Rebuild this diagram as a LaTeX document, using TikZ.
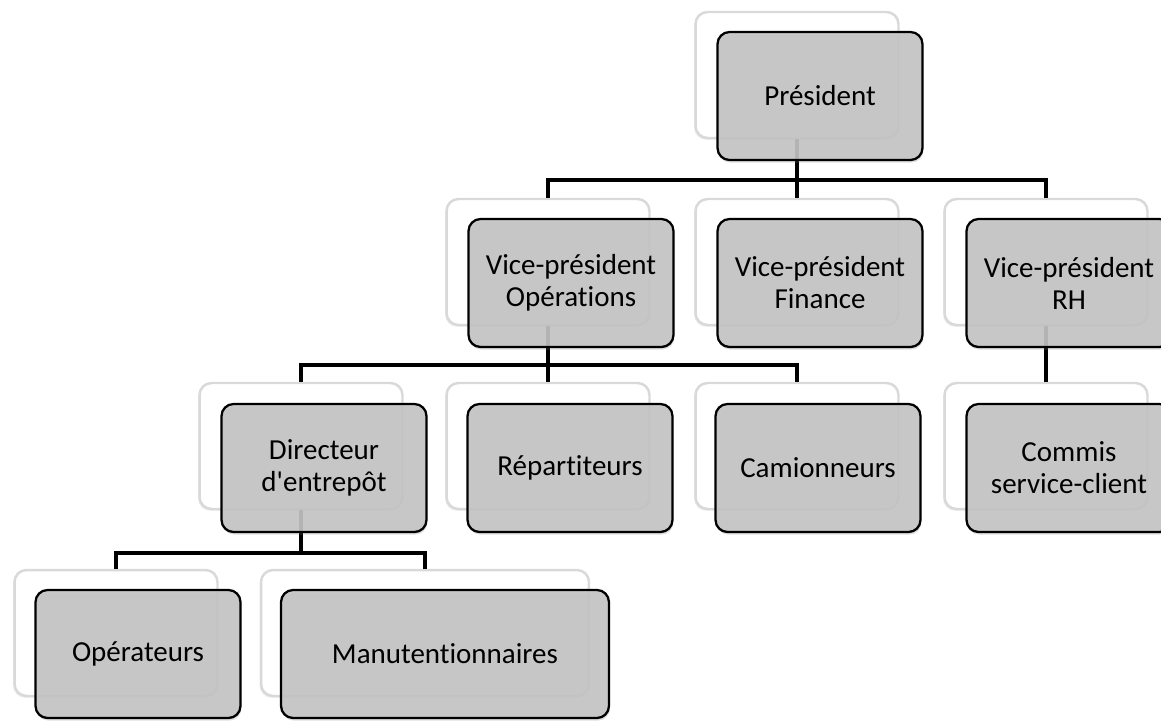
\documentclass[tikz,border=0pt]{standalone}
\usepackage{fontspec}
\setmainfont{Carlito}[Ligatures={NoCommon}]
\usetikzlibrary{shadows}
\tikzset{ b/.style = { rectangle % back card
        , rounded corners = 0.24cm
        , draw = black!15
        , line width = 1.4pt
        , fill = white
        , drop shadow = {opacity=0.15, shadow xshift=-0.8pt, shadow yshift=-1pt}
        , minimum width = 4.06cm
        , minimum height = 2.52cm
        }
        , f/.style = { rectangle % front card
        , rounded corners = 0.24cm
        , draw = black
        , line width = 1.3pt
        , fill = black!23
        , fill opacity = 0.9
        , text opacity = 1
        , drop shadow = {opacity=0.25, shadow xshift=0.5pt, shadow yshift=-1.5pt}
        , minimum width = 4.1cm
        , minimum height = 2.56cm
        , align = center
        , font = \fontsize{16.5}{18.2}\selectfont
        }
        }

\begin{document}
\begin{tikzpicture}[x=0.02cm, y=-0.02cm,
        edge_style/.style={draw=black, line width=2.8pt}]
        \useasboundingbox (0,0) rectangle (1161,721);

        \node [b](pres-b) at (797,75) {};
        \node [b](opr-b) at (548,262) {};
        \node [b](fin-b) at (797,262) {};
        \node [b](rh-b) at (1046,262) {};
        \node [b](dir-b) at (301,446) {};
        \node [b](rep-b) at (548,446) {};
        \node [b](cam-b) at (797,446) {};
        \node [b](com-b) at (1046,446) {};
        \node [b](ope-b) at (116,633) {};
        \node [b,minimum width=6.56cm](man-b) at (425,633) {};

        \coordinate (bar1) at (797,180);
        \coordinate (bar2) at (548,365);
        \coordinate (bar3) at (301,553);
        \draw [edge_style] (opr-b.north) |- (bar1) -| (rh-b.north);
        \draw [edge_style] (pres-b.south) -- (bar1) -- (fin-b.north);
        \draw [edge_style] (dir-b.north) |- (bar2) -| (cam-b.north);
        \draw [edge_style] (opr-b.south) -- (bar2) -- (rep-b.north);
        \draw [edge_style] (ope-b.north) |- (bar3) -| (man-b.north);
        \draw [edge_style] (dir-b.south) -- (bar3);
        \draw [edge_style] (rh-b.south) -- (com-b.north);

        \node [f](pres) at (820,96) {Président};
        \node [f](opr) at (571,283) {Vice-président\\Opérations};
        \node [f](fin) at (820,283) {Vice-président\\Finance};
        \node [f](rh) at (1069,283) {Vice-président\\RH};
        \node [f](dir) at (324,468) {Directeur\\d\textquotesingle entrepôt};
        \node [f](rep) at (570,468) {Répartiteurs};
        \node [f](cam) at (818,468) {Camionneurs};
        \node [f](com) at (1069,468) {Commis\\service-client};
        \node [f](ope) at (138,654) {Opérateurs};
        \node [f,minimum width=6.56cm](man) at (445,654) {Manutentionnaires};
\end{tikzpicture}
\end{document}
